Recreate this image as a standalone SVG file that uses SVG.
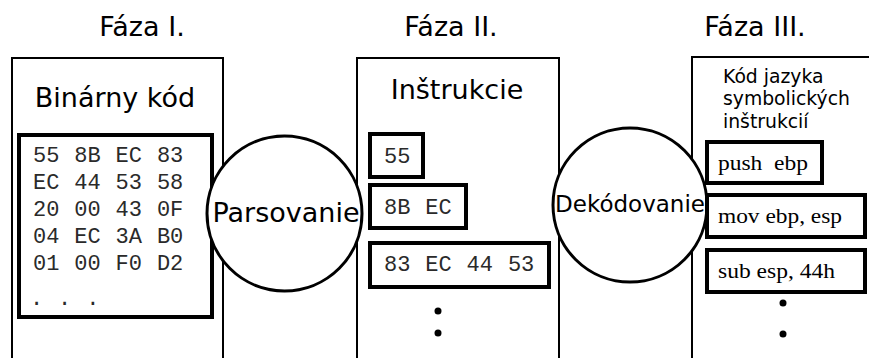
<svg xmlns="http://www.w3.org/2000/svg" width="869" height="358" viewBox="0 0 869 358">
<style>
.phase{fill:none;stroke:#000;stroke-width:2}
.inner{fill:#fff;stroke:#000;stroke-width:4}
.proc{fill:#fff;stroke:#000;stroke-width:3}
.title{font-family:"DejaVu Sans",Verdana,sans-serif;font-size:27px;fill:#000;text-anchor:middle}
.label{font-family:"DejaVu Sans",Verdana,sans-serif;font-size:27px;fill:#000}
.small{font-family:"DejaVu Sans",Verdana,sans-serif;font-size:18.8px;fill:#000}
.hex{font-family:"Liberation Mono","Courier New",monospace;font-size:22px;fill:#2a2a2a;word-spacing:1.7px}
.asm{font-family:"Liberation Serif","Times New Roman",serif;font-size:21px;fill:#000}
.dot{fill:#000}
</style>
<rect width="869" height="358" fill="#fff"/>
<g id="phase1">
<text class="title" x="142" y="36">Fáza I.</text>
<path class="phase" d="M12,358 V58 H223 V358"/>
<text class="title" x="115" y="107">Binárny kód</text>
<rect class="inner" x="19" y="135" width="193" height="182"/>
<text class="hex" x="33" y="162" xml:space="preserve">55 8B EC 83</text>
<text class="hex" x="33" y="189" xml:space="preserve">EC 44 53 58</text>
<text class="hex" x="33" y="216" xml:space="preserve">20 00 43 0F</text>
<text class="hex" x="33" y="243" xml:space="preserve">04 EC 3A B0</text>
<text class="hex" x="33" y="270" xml:space="preserve">01 00 F0 D2</text>
<text class="hex" x="30" y="305" xml:space="preserve">. . .</text>
</g>
<g id="phase2">
<text class="title" x="451" y="36">Fáza II.</text>
<path class="phase" d="M357,358 V58 H559 V358"/>
<text class="title" x="457" y="99">Inštrukcie</text>
<rect class="inner" x="370" y="134" width="53" height="43"/>
<text class="hex" x="384" y="163">55</text>
<rect class="inner" x="370" y="185" width="96" height="43"/>
<text class="hex" x="384" y="214">8B EC</text>
<rect class="inner" x="370" y="243" width="179" height="44"/>
<text class="hex" x="384" y="271">83 EC 44 53</text>
<circle class="dot" cx="438" cy="311" r="3.5"/>
<circle class="dot" cx="438" cy="333" r="3.5"/>
</g>
<g id="phase3">
<text class="title" x="755" y="36">Fáza III.</text>
<path class="phase" d="M692,358 V57 H869"/>
<text class="small" x="723" y="83">Kód jazyka</text>
<text class="small" x="723" y="105">symbolických</text>
<text class="small" x="723" y="128">inštrukcií</text>
</g>
<g id="parsovanie">
<circle class="proc" cx="284.5" cy="213.5" r="77.5"/>
<text class="label" x="286" y="222" text-anchor="middle">Parsovanie</text>
</g>
<g id="dekodovanie">
<circle class="proc" cx="630" cy="205" r="77"/>
<text class="label" x="630" y="212" text-anchor="middle" style="font-size:23px">Dekódovanie</text>
</g>
<g id="asm">
<rect class="inner" x="707" y="142" width="115" height="41"/>
<text class="asm" x="718" y="170" textLength="90" lengthAdjust="spacingAndGlyphs" xml:space="preserve">push  ebp</text>
<rect class="inner" x="707" y="195" width="158" height="42"/>
<text class="asm" x="718" y="223" textLength="124" lengthAdjust="spacingAndGlyphs">mov ebp, esp</text>
<rect class="inner" x="707" y="250" width="158" height="42"/>
<text class="asm" x="718" y="278" textLength="117" lengthAdjust="spacingAndGlyphs">sub esp, 44h</text>
<circle class="dot" cx="783" cy="303" r="3.5"/>
<circle class="dot" cx="783" cy="334" r="3.5"/>
</g>
</svg>
